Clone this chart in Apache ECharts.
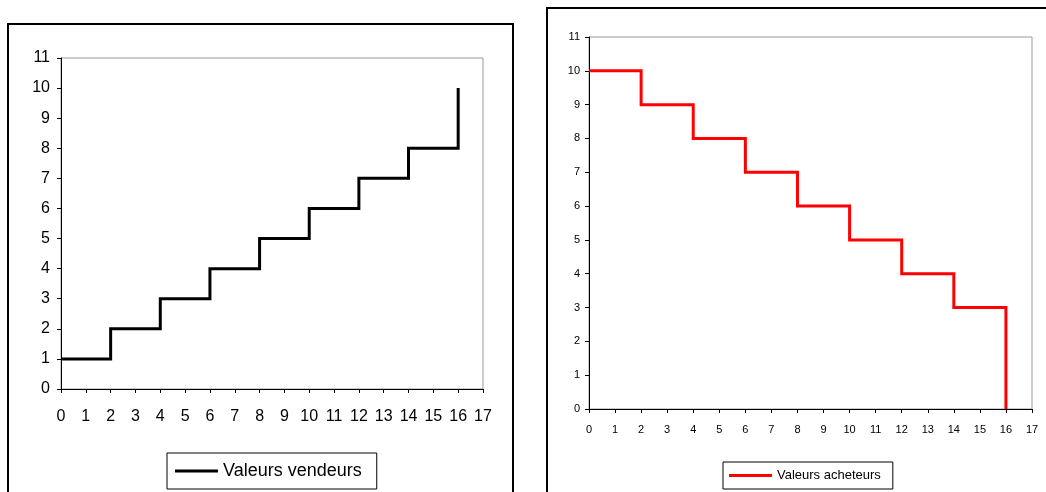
<!DOCTYPE html>
<html>
<head>
<meta charset="utf-8">
<script src="https://cdn.jsdelivr.net/npm/echarts@6/dist/echarts.min.js"></script>
<style>
html,body{margin:0;padding:0;background:#fff;}
#c{width:1046px;height:492px;}
</style>
</head>
<body>
<div id="c"></div>
<script>
// Data
const quantities = [0, 2, 4, 6, 8, 10, 12, 14, 16];
const sellerValues = [1, 2, 3, 4, 5, 6, 7, 8, 10];
const buyerValues = [10, 9, 8, 7, 6, 5, 4, 3, 0];
const sellerName = 'Valeurs vendeurs';
const buyerName = 'Valeurs acheteurs';

const chart = echarts.init(document.getElementById('c'), null, {renderer: 'canvas'});
const font = 'Arial, "Liberation Sans", sans-serif';

function xAxis(gi, fs) {
  return {
    type: 'value', gridIndex: gi, min: 0, max: 17, interval: 1,
    axisLine: {show: true, onZero: false, lineStyle: {color: '#000', width: 1}},
    axisTick: {show: true, inside: false, length: 4, lineStyle: {color: '#000'}},
    axisLabel: {color: '#000', fontSize: fs, fontFamily: font, margin: gi === 0 ? 20 : 15},
    splitLine: {show: false}
  };
}
function yAxis(gi, fs) {
  return {
    type: 'value', gridIndex: gi, min: 0, max: 11, interval: 1,
    axisLine: {show: true, onZero: false, lineStyle: {color: '#000', width: 1}},
    axisTick: {show: true, inside: false, length: 4, lineStyle: {color: '#000'}},
    axisLabel: {color: '#000', fontSize: fs, fontFamily: font, margin: gi === 0 ? 11 : 9},
    splitLine: {show: false}
  };
}

chart.setOption({
  backgroundColor: '#fff',
  animation: false,
  graphic: [
    {type: 'rect', shape: {x: 8, y: 24, width: 505, height: 490}, style: {fill: 'none', stroke: '#000', lineWidth: 2}, z: 0},
    {type: 'rect', shape: {x: 547, y: 8, width: 510, height: 500}, style: {fill: 'none', stroke: '#000', lineWidth: 2}, z: 0}
  ],
  grid: [
    {left: 61, top: 58, width: 422, height: 331, show: true, borderColor: '#999', borderWidth: 1, backgroundColor: '#fff'},
    {left: 589, top: 37, width: 443, height: 372, show: true, borderColor: '#999', borderWidth: 1, backgroundColor: '#fff'}
  ],
  xAxis: [xAxis(0, 16), xAxis(1, 11)],
  yAxis: [yAxis(0, 16), yAxis(1, 11)],
  legend: [
    {
      data: [sellerName], left: 167, top: 453, orient: 'horizontal',
      borderColor: '#000', borderWidth: 1, padding: [9, 15, 9, 8],
      itemWidth: 43, itemHeight: 3, itemGap: 5, icon: 'rect',
      textStyle: {color: '#000', fontSize: 18, fontFamily: font, padding: [0, 0, 0, 0]}
    },
    {
      data: [buyerName], left: 723, top: 462, orient: 'horizontal',
      borderColor: '#000', borderWidth: 1, padding: [7, 12, 7, 6],
      itemWidth: 43, itemHeight: 3, itemGap: 6, icon: 'rect',
      textStyle: {color: '#000', fontSize: 13, fontFamily: font, padding: [0, 0, 0, 0], letterSpacing: 0.4}
    }
  ],
  series: [
    {
      name: sellerName, type: 'line', xAxisIndex: 0, yAxisIndex: 0, step: 'end',
      data: quantities.map((q, i) => [q, sellerValues[i]]),
      showSymbol: false, symbol: 'none',
      lineStyle: {color: '#000', width: 3, join: 'miter', cap: 'butt'},
      itemStyle: {color: '#000'}
    },
    {
      name: buyerName, type: 'line', xAxisIndex: 1, yAxisIndex: 1, step: 'end',
      data: quantities.map((q, i) => [q, buyerValues[i]]),
      showSymbol: false, symbol: 'none',
      lineStyle: {color: '#ff0000', width: 3, join: 'miter', cap: 'butt'},
      itemStyle: {color: '#ff0000'}
    }
  ]
});
</script>
</body>
</html>
